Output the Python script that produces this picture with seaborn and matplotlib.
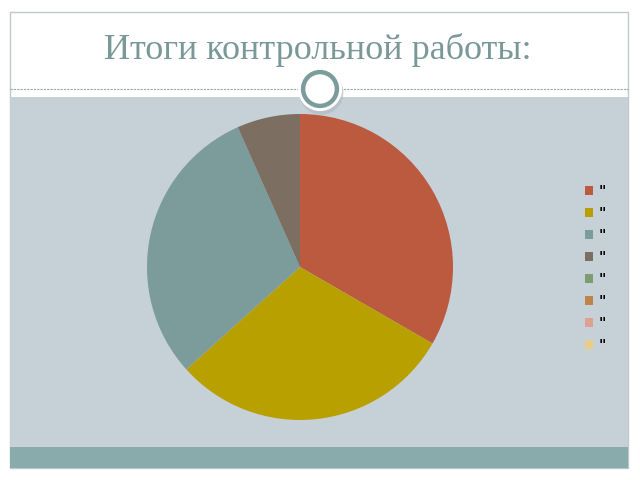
import matplotlib
matplotlib.use('Agg')
import matplotlib.pyplot as plt
import seaborn as sns
from matplotlib.patches import Rectangle, Circle, Patch
from matplotlib.lines import Line2D

sns.set_theme(style='white')
plt.rcParams['font.family'] = ['Liberation Serif', 'DejaVu Serif']

# данные диаграммы
labels = ['"', '"', '"', '"', '"', '"', '"', '"']
values = [10, 9, 9, 2, 0, 0, 0, 0]
colors = ['#BC5A40', '#B8A000', '#7C9B9B', '#7D6E62',
          '#7E9C74', '#C0844A', '#E0A090', '#E8CC88']
title = 'Итоги контрольной работы:'

W, H = 640, 480
fig = plt.figure(figsize=(6.4, 4.8), dpi=100)
fig.patch.set_facecolor('white')

def px_rect(x0, y0, x1, y1, **kw):
    # прямоугольник в пикселях (y сверху вниз)
    fig.patches.append(Rectangle((x0 / W, 1 - y1 / H), (x1 - x0) / W, (y1 - y0) / H,
                                 transform=fig.transFigure, figure=fig, zorder=-5, **kw))

# рамка слайда и фон
px_rect(10, 12, 628, 468, facecolor='white', edgecolor='#BFC9C9', linewidth=1)
px_rect(10, 97, 628, 447, facecolor='#C6D1D7', edgecolor='none')
px_rect(10, 447, 628, 468, facecolor='#8AABAB', edgecolor='none')

# пунктирная линия под заголовком
for xa, xb in [(10, 300), (340, 628)]:
    fig.lines.append(Line2D([xa / W, xb / W], [1 - 89 / H, 1 - 89 / H],
                            transform=fig.transFigure, color='#9AA8A8', zorder=-4,
                            linewidth=0.8, linestyle=(0, (2, 1))))

fig.text(318 / W, 1 - 50 / H, title, ha='center', va='center',
         fontsize=26, color='#7A9898')

# круговая диаграмма
R = 153
ax = fig.add_axes([(300 - R) / W, 1 - (267 + R) / H, 2 * R / W, 2 * R / H])
ax.set_zorder(2)
ax.pie(values, colors=colors, startangle=90, counterclock=False,
       wedgeprops=dict(linewidth=0))
ax.set_xlim(-1, 1)
ax.set_ylim(-1, 1)
ax.set_aspect('equal')
ax.axis('off')

# кружок-украшение в отдельных осях (1 единица = 26 px)
ax_r = fig.add_axes([(320 - 26) / W, 1 - (89 + 26) / H, 52 / W, 52 / H])
ax_r.set_zorder(3)
ax_r.add_patch(Circle((0.05, -0.14), 0.85, facecolor='#AEB9BE', edgecolor='none', alpha=0.6))
ax_r.add_patch(Circle((0, 0), 0.85, facecolor='white', edgecolor='none'))
ax_r.add_patch(Circle((0, 0), 0.65, facecolor='white', edgecolor='#7C9B9B', linewidth=3.2))
ax_r.set_xlim(-1, 1)
ax_r.set_ylim(-1, 1)
ax_r.axis('off')

handles = [Patch(facecolor=c, edgecolor='none') for c in colors]
leg = fig.legend(handles, labels, loc='upper left',
                 bbox_to_anchor=(585 / W, 1 - 184 / H), frameon=False,
                 fontsize=10, handlelength=0.6, handleheight=0.6,
                 handletextpad=0.4, labelspacing=0.58, borderpad=0, borderaxespad=0)
for t in leg.get_texts():
    t.set_fontweight('bold')
    t.set_fontfamily(['DejaVu Sans'])
    t.set_color('black')

fig.savefig('out.png', dpi=100)
